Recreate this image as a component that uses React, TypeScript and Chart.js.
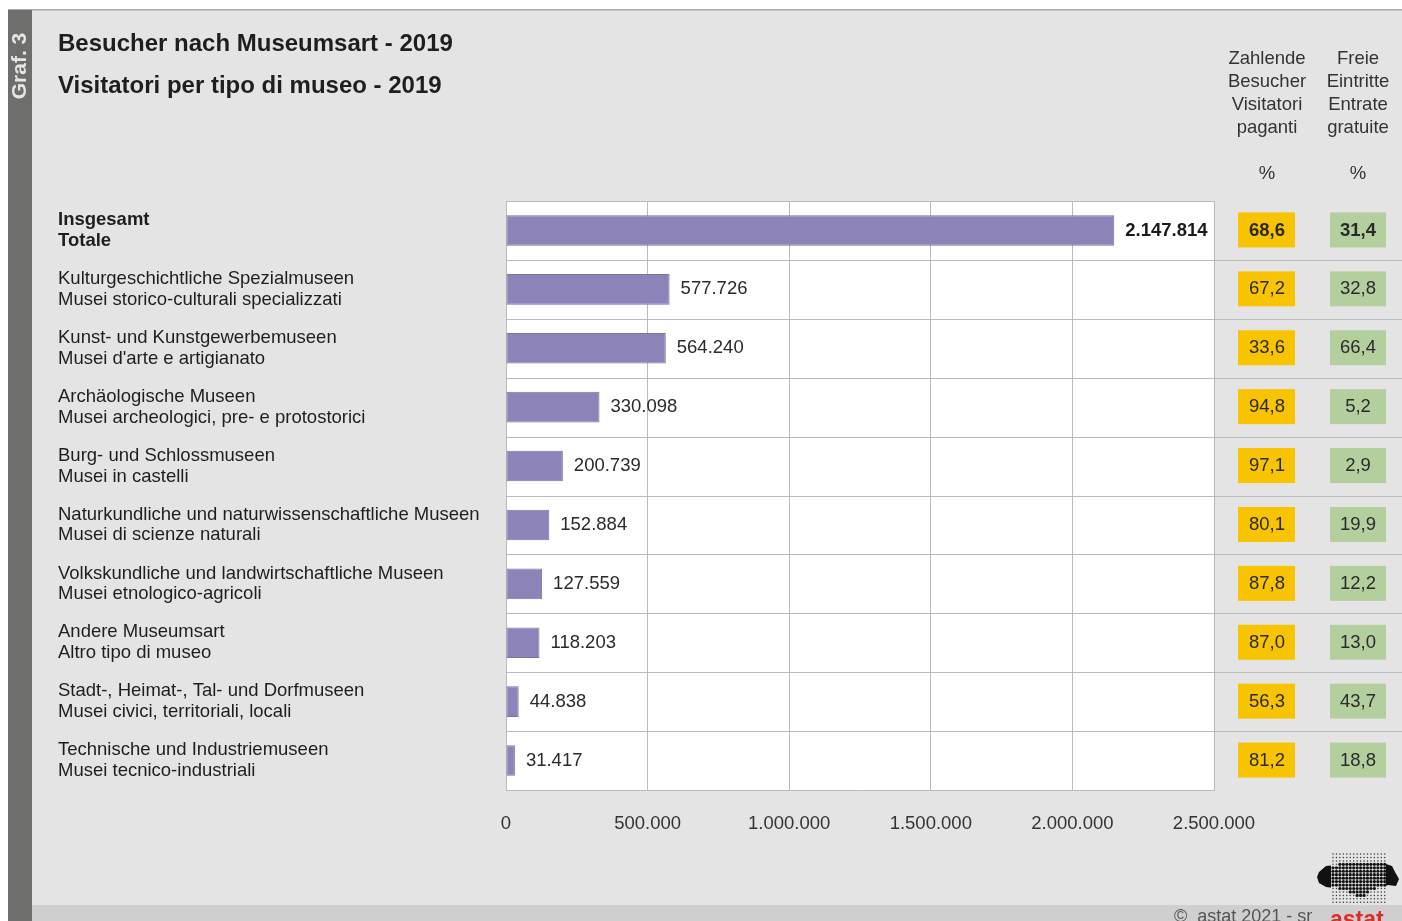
import { useEffect, useRef } from "react";
import { Chart, registerables } from "chart.js";

Chart.register(...registerables);

const FONT = "'Liberation Sans', Arial, sans-serif";

const titleDe = "Besucher nach Museumsart - 2019";
const titleIt = "Visitatori per tipo di museo - 2019";
const sideLabel = "Graf. 3";

const categoriesDe = [
  "Insgesamt",
  "Kulturgeschichtliche Spezialmuseen",
  "Kunst- und Kunstgewerbemuseen",
  "Archäologische Museen",
  "Burg- und Schlossmuseen",
  "Naturkundliche und naturwissenschaftliche Museen",
  "Volkskundliche und landwirtschaftliche Museen",
  "Andere Museumsart",
  "Stadt-, Heimat-, Tal- und Dorfmuseen",
  "Technische und Industriemuseen",
];
const categoriesIt = [
  "Totale",
  "Musei storico-culturali specializzati",
  "Musei d'arte e artigianato",
  "Musei archeologici, pre- e protostorici",
  "Musei in castelli",
  "Musei di scienze naturali",
  "Musei etnologico-agricoli",
  "Altro tipo di museo",
  "Musei civici, territoriali, locali",
  "Musei tecnico-industriali",
];
const visitors = [2147814, 577726, 564240, 330098, 200739, 152884, 127559, 118203, 44838, 31417];
const paidPct = [68.6, 67.2, 33.6, 94.8, 97.1, 80.1, 87.8, 87.0, 56.3, 81.2];
const freePct = [31.4, 32.8, 66.4, 5.2, 2.9, 19.9, 12.2, 13.0, 43.7, 18.8];
const xTickValues = [0, 500000, 1000000, 1500000, 2000000, 2500000];
const headerPaid = ["Zahlende", "Besucher", "Visitatori", "paganti"];
const headerFree = ["Freie", "Eintritte", "Entrate", "gratuite"];
const headerUnit = "%";
const footerText = "©  astat 2021 - sr";
const logoText = "astat";

const fmtInt = (n: number) => String(Math.round(n)).replace(/\B(?=(\d{3})+(?!\d))/g, ".");
const fmtPct = (n: number) => n.toFixed(1).replace(".", ",");

const GRID = "#bababa";
const PANEL = "#e4e4e4";

function drawLogo(ctx: CanvasRenderingContext2D) {
  const blob = new Path2D();
  const pts: [number, number][] = [
    [1319, 872], [1326, 866], [1336, 865], [1344, 862], [1352, 864], [1362, 863],
    [1372, 861], [1383, 863], [1392, 866], [1395, 872], [1399, 879], [1396, 886],
    [1388, 885], [1380, 888], [1371, 890], [1366, 896], [1358, 899], [1352, 893],
    [1343, 889], [1334, 888], [1326, 887], [1319, 883], [1317, 877],
  ];
  pts.forEach(([x, y], i) => (i === 0 ? blob.moveTo(x, y) : blob.lineTo(x, y)));
  blob.closePath();
  ctx.save();
  ctx.fillStyle = "#111111";
  ctx.fill(blob);
  ctx.fillStyle = PANEL;
  ctx.fillRect(1331, 851, 55, 54);
  for (let gx = 1333; gx <= 1385; gx += 3.45) {
    for (let gy = 854; gy <= 904; gy += 3.45) {
      const inside = ctx.isPointInPath(blob, gx, gy);
      ctx.fillStyle = inside ? "#111111" : "#3a3a3a";
      ctx.beginPath();
      ctx.arc(gx, gy, inside ? 1.6 : 0.75, 0, Math.PI * 2);
      ctx.fill();
    }
  }
  ctx.restore();
}

const decorPlugin = {
  id: "decor",
  beforeDraw(chart: any) {
    const { ctx, chartArea: a } = chart;
    ctx.save();
    ctx.fillStyle = "#ffffff";
    ctx.fillRect(0, 0, 1402, 921);
    ctx.fillStyle = PANEL;
    ctx.fillRect(8, 10, 1394, 911);
    ctx.fillStyle = "#a9a9a9";
    ctx.fillRect(8, 9, 1394, 1.5);
    ctx.fillStyle = "#6e6e6c";
    ctx.fillRect(8, 10, 24, 911);
    ctx.fillStyle = "#cfcfcf";
    ctx.fillRect(32, 905, 1370, 16);
    ctx.fillStyle = "#ffffff";
    ctx.fillRect(a.left, a.top, a.right - a.left, a.bottom - a.top);

    ctx.save();
    ctx.translate(20, 66);
    ctx.rotate(-Math.PI / 2);
    ctx.fillStyle = "#e6e6e6";
    ctx.font = `bold 21px ${FONT}`;
    ctx.textAlign = "center";
    ctx.textBaseline = "middle";
    ctx.fillText(sideLabel, 0, 0);
    ctx.restore();

    ctx.fillStyle = "#1e1e1e";
    ctx.font = `bold 24px ${FONT}`;
    ctx.textAlign = "left";
    ctx.textBaseline = "middle";
    ctx.fillText(titleDe, 58, 44);
    ctx.fillText(titleIt, 58, 86);

    ctx.fillStyle = "#333333";
    ctx.font = `18.5px ${FONT}`;
    ctx.textAlign = "center";
    const hy = [59, 82, 105, 128];
    headerPaid.forEach((t, i) => ctx.fillText(t, 1267, hy[i]));
    headerFree.forEach((t, i) => ctx.fillText(t, 1358, hy[i]));
    ctx.fillText(headerUnit, 1267, 174);
    ctx.fillText(headerUnit, 1358, 174);

    drawLogo(ctx);

    ctx.fillStyle = "#555555";
    ctx.textAlign = "left";
    ctx.textBaseline = "alphabetic";
    ctx.font = `18px ${FONT}`;
    ctx.fillText(footerText, 1174, 922);
    ctx.fillStyle = "#e02a2a";
    ctx.font = `bold 23px ${FONT}`;
    ctx.fillText(logoText, 1330, 927);
    ctx.restore();
  },
  beforeDatasetsDraw(chart: any) {
    const { ctx, chartArea: a, scales } = chart;
    const y = scales.y;
    const n = visitors.length;
    ctx.save();
    ctx.strokeStyle = GRID;
    ctx.lineWidth = 1;
    ctx.beginPath();
    ctx.moveTo(a.left, Math.round(a.top) + 0.5);
    ctx.lineTo(a.right, Math.round(a.top) + 0.5);
    ctx.stroke();
    for (let i = 0; i < n - 1; i++) {
      const yy = (y.getPixelForValue(i) + y.getPixelForValue(i + 1)) / 2;
      ctx.beginPath();
      ctx.moveTo(a.left, Math.round(yy) + 0.5);
      ctx.lineTo(1402, Math.round(yy) + 0.5);
      ctx.stroke();
    }
    for (let i = 0; i < n; i++) {
      const cy = y.getPixelForValue(i);
      ctx.fillStyle = "#f8c300";
      ctx.fillRect(1238, cy - 18, 57, 35);
      ctx.fillStyle = "#b4cf9e";
      ctx.fillRect(1330, cy - 18, 56, 35);
      ctx.fillStyle = "#2a2a2a";
      ctx.font = `${i === 0 ? "bold " : ""}18.5px ${FONT}`;
      ctx.textAlign = "center";
      ctx.textBaseline = "middle";
      ctx.fillText(fmtPct(paidPct[i]), 1267, cy);
      ctx.fillText(fmtPct(freePct[i]), 1358, cy);
    }
    ctx.restore();
  },
  afterDatasetsDraw(chart: any) {
    const { ctx } = chart;
    const meta = chart.getDatasetMeta(0);
    ctx.save();
    ctx.textAlign = "left";
    ctx.textBaseline = "middle";
    meta.data.forEach((bar: any, i: number) => {
      ctx.fillStyle = i === 0 ? "#1a1a1a" : "#2a2a2a";
      ctx.font = `${i === 0 ? "bold " : ""}18.5px ${FONT}`;
      ctx.fillText(fmtInt(visitors[i]), bar.x + 11, bar.y);
    });
    ctx.restore();
  },
};

export default function App() {
  const ref = useRef<HTMLCanvasElement | null>(null);
  useEffect(() => {
    if (!ref.current) return;
    const labels = categoriesDe.map((d, i) => [d, categoriesIt[i]]);
    const chart = new Chart(ref.current, {
      type: "bar",
      data: {
        labels,
        datasets: [
          {
            data: visitors,
            backgroundColor: "#8c84b9",
            borderColor: "#7a71a8",
            borderWidth: 1,
            borderSkipped: false,
            barPercentage: 0.52,
            categoryPercentage: 1,
          },
        ],
      },
      options: {
        indexAxis: "y",
        responsive: true,
        maintainAspectRatio: false,
        animation: false,
        layout: { padding: { left: 58, right: 188, top: 201, bottom: 0 } },
        plugins: { legend: { display: false }, tooltip: { enabled: false } },
        scales: {
          x: {
            min: 0,
            max: 2500000,
            afterBuildTicks: (s: any) => {
              s.ticks = xTickValues.map((v) => ({ value: v }));
            },
            ticks: {
              callback: (v: any) => fmtInt(Number(v)),
              color: "#333333",
              font: { family: FONT, size: 18.5 },
              padding: 23,
              maxRotation: 0,
              autoSkip: false,
            },
            grid: { color: GRID, drawTicks: false, lineWidth: 1 },
            border: { color: GRID },
            afterFit: (s: any) => {
              s.height = 131;
            },
          },
          y: {
            ticks: {
              crossAlign: "far",
              color: "#1e1e1e",
              padding: 0,
              autoSkip: false,
              font: (c: any) => ({
                family: FONT,
                size: 18.5,
                weight: c.index === 0 ? "bold" : "normal",
                lineHeight: 1.12,
              }),
            },
            grid: { display: false, drawTicks: false },
            border: { display: false },
            afterFit: (s: any) => {
              s.width = 448;
            },
          },
        },
      } as any,
      plugins: [decorPlugin],
    });
    return () => chart.destroy();
  }, []);
  return (
    <div style={{ position: "absolute", left: 0, top: 0, width: 1402, height: 921 }}>
      <canvas ref={ref} />
    </div>
  );
}
